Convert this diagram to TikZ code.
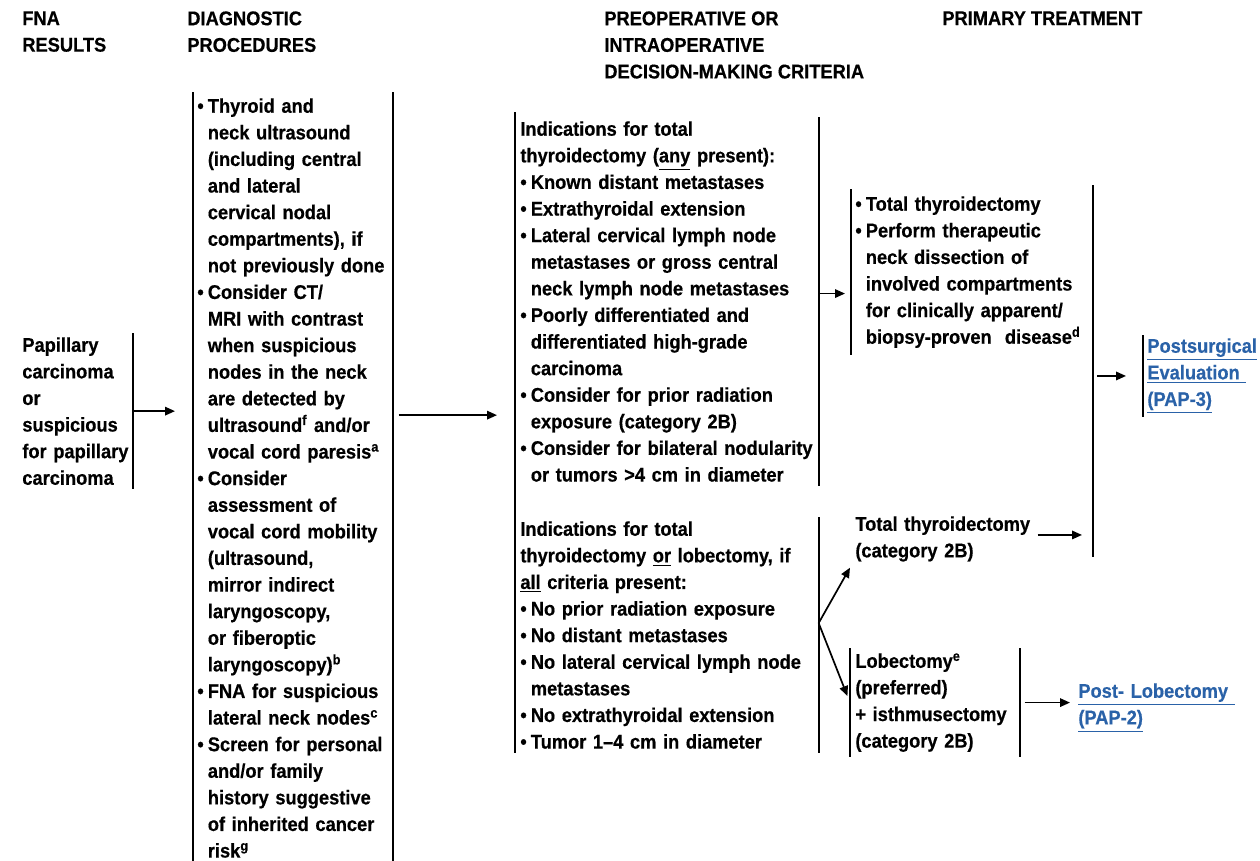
\documentclass[tikz,border=0pt]{standalone}
\usepackage{fontspec}
\setmainfont{Liberation Sans}[FakeStretch=0.92,FakeBold=0.5]
\usetikzlibrary{arrows.meta,positioning}
\definecolor{linkblue}{RGB}{42,98,168}
\newcommand{\nccn}{\fontsize{11.3}{15.14}\selectfont\bfseries}
\newcommand{\wide}{\rightskip=-3cm plus 1fil\hyphenpenalty=10000\relax}
\newcommand{\fbul}{\wide\hangindent=0.21cm\hangafter=1\noindent\makebox[0.21cm][l]{\textbullet}}
\newcommand{\bul}{\par\fbul}
\newcommand{\nl}{\newline}

\begin{document}
\begin{tikzpicture}[x=0.02cm, y=-0.02cm,
    txt/.style = {anchor=north west, align=left, inner sep=0pt, font=\nccn},
    box/.style = {txt, inner xsep=0.08cm, inner ysep=0.08cm},
    rule/.style = {line width=0.034cm},
    arr/.style = {-{Triangle[length=0.2cm,width=0.17cm]}, line width=0.034cm},
    link/.style = {box, text=linkblue}]
    \useasboundingbox (0,0) rectangle (1260,860);

    % column heads
    \node[txt] (hfna) at (22, 11) {FNA\\RESULTS};
    \node[txt] (hdiag) at (187, 11) {DIAGNOSTIC\\PROCEDURES};
    \node[txt] (hcrit) at (604, 11) {PREOPERATIVE OR\\INTRAOPERATIVE\\DECISION-MAKING CRITERIA};
    \node[txt] (htreat) at (942, 11) {PRIMARY TREATMENT};

    \node[box, text width=2.12cm] (pap) at (18, 333)
        {\wide Papillary\nl carcinoma\nl or\nl suspicious\nl for papillary\nl carcinoma\par};

    \node[box, text width=3.82cm, inner ysep=0.12cm] (diag) at (193, 92)
        {\fbul Thyroid and\nl neck ultrasound\nl (including central\nl and lateral\nl cervical nodal\nl compartments), if\nl not previously done
         \bul Consider CT/\nl MRI with contrast\nl when suspicious\nl nodes in the neck\nl are detected by\nl ultrasound\textsuperscript{f} and/or\nl vocal cord paresis\textsuperscript{a}
         \bul Consider\nl assessment of\nl vocal cord mobility\nl (ultrasound,\nl mirror indirect\nl laryngoscopy,\nl or fiberoptic\nl laryngoscopy)\textsuperscript{b}
         \bul FNA for suspicious\nl lateral neck nodes\textsuperscript{c}
         \bul Screen for personal\nl and/or family\nl history suggestive\nl of inherited cancer\nl risk\textsuperscript{g}\par};

    \node[box, text width=5.86cm, inner xsep=0.1cm] (crita) at (515, 117)
        {\wide Indications for total\nl thyroidectomy (\underline{any} present):
         \bul Known distant metastases
         \bul Extrathyroidal extension
         \bul Lateral cervical lymph node\nl metastases or gross central\nl neck lymph node metastases
         \bul Poorly differentiated and\nl differentiated high-grade\nl carcinoma
         \bul Consider for prior radiation\nl exposure (category 2B)
         \bul Consider for bilateral nodularity\nl or tumors >4 cm in diameter\par};

    \node[box, text width=5.86cm, inner xsep=0.1cm] (critb) at (515, 517)
        {\wide Indications for total\nl thyroidectomy \underline{or} lobectomy, if\nl \underline{all} criteria present:
         \bul No prior radiation exposure
         \bul No distant metastases
         \bul No lateral cervical lymph node\nl metastases
         \bul No extrathyroidal extension
         \bul Tumor 1--4 cm in diameter\par};

    \node[box, text width=4.5cm, inner ysep=0.14cm] (treata) at (851, 189)
        {\fbul Total thyroidectomy
         \bul Perform therapeutic\nl neck dissection of\nl involved compartments\nl for clinically apparent/\nl biopsy-proven~~disease\textsuperscript{d}\par};

    \node[box, text width=3.5cm] (treatb) at (851, 512) {\wide Total thyroidectomy\nl (category 2B)\par};

    \node[box, text width=3.18cm, inner xsep=0.1cm, inner ysep=0.1cm] (lobe) at (850, 648)
        {\wide Lobectomy\textsuperscript{e}\nl (preferred)\nl + isthmusectomy\nl (category 2B)\par};

    \node[link, text width=2.24cm, inner ysep=0.06cm] (posta) at (1143, 335)
        {\wide\underline{Postsurgical}\nl \underline{Evaluation\ }\nl \underline{(PAP-3)}\par};

    \node[link, text width=3.2cm] (postb) at (1074, 679)
        {\wide\underline{Post- Lobectomy\ }\nl \underline{(PAP-2)}\par};

    \coordinate (jtop) at (1093, 185);
    \coordinate (jbot) at (1093, 557);
    \coordinate (fork) at ([yshift=0.24cm]critb.east);

    % brackets
    \draw[rule] (pap.north east) -- (pap.south east);
    \draw[rule] (diag.north west) -- (diag.south west);
    \draw[rule] (diag.north east) -- (diag.south east);
    \draw[rule] ([yshift=0.1cm]crita.north west) -- (critb.south west);
    \draw[rule] (crita.north east) -- (crita.south east);
    \draw[rule] (critb.north east) -- (critb.south east);
    \draw[rule] (treata.north west) -- (treata.south west);
    \draw[rule] (jtop) -- (jbot);
    \draw[rule] (lobe.north west) -- (lobe.south west);
    \draw[rule] (lobe.north east) -- (lobe.south east);
    \draw[rule] (posta.north west) -- (posta.south west);

    % arrows
    \draw[arr, shorten <=0.02cm, shorten >=0.36cm] (pap.east) -- (pap.east -| diag.west);
    \draw[arr, shorten <=0.12cm, shorten >=0.36cm] ([yshift=-0.08cm]diag.east |- pap.east) -- ([yshift=-0.08cm]crita.west |- pap.east);
    \draw[arr, shorten >=0.12cm] ([yshift=0.16cm]crita.east) -- ([yshift=0.16cm]crita.east -| treata.west);
    \draw[arr, shorten >=0.04cm] (fork) -- (treatb.south west);
    \draw[arr, shorten >=0.14cm] (fork) -- (lobe.west);
    \draw[arr, shorten <=0.06cm, shorten >=0.22cm] ([yshift=0.08cm]treatb.east) -- ([yshift=0.08cm]treatb.east -| jtop);
    \draw[arr, shorten <=0.08cm, shorten >=0.34cm] (posta.west -| jtop) -- (posta.west);
    \draw[arr, shorten <=0.1cm, shorten >=0.08cm] (lobe.east) -- (lobe.east -| postb.west);
\end{tikzpicture}
\end{document}
